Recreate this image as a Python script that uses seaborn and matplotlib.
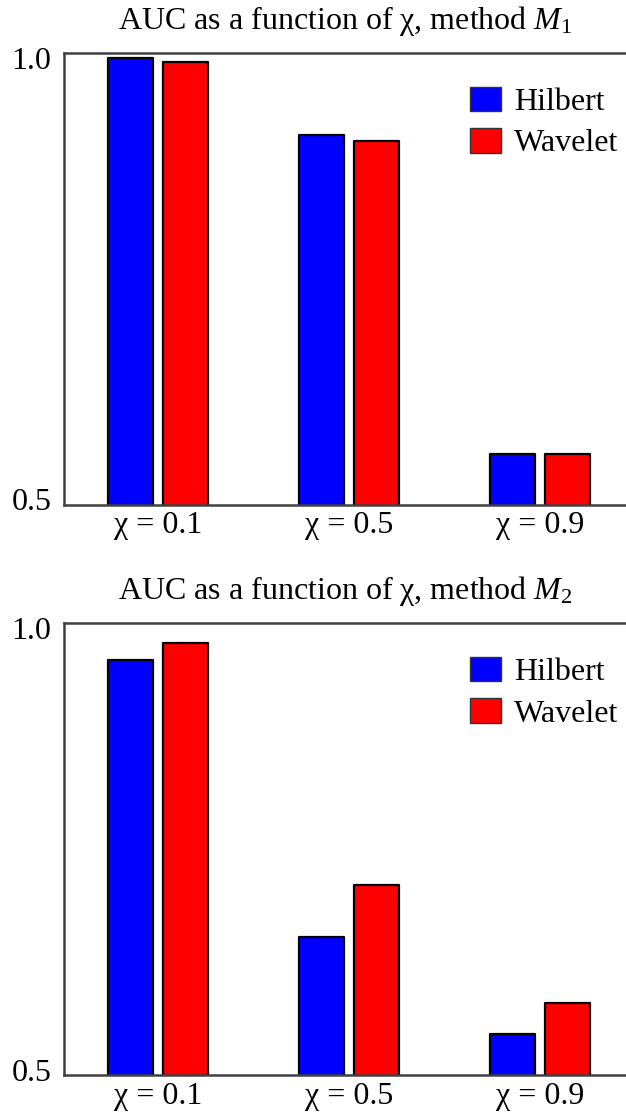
import numpy as np
import pandas as pd
import matplotlib
matplotlib.use("Agg")
import matplotlib.pyplot as plt
from matplotlib.transforms import ScaledTranslation
import seaborn as sns

# Data
categories = ["χ = 0.1", "χ = 0.5", "χ = 0.9"]
methods = ["Hilbert", "Wavelet"]
m1_hilbert = [0.994, 0.909, 0.556]
m1_wavelet = [0.990, 0.902, 0.556]
m2_hilbert = [0.959, 0.653, 0.545]
m2_wavelet = [0.978, 0.710, 0.580]
titles = ["AUC as a function of χ, method $M_1$", "AUC as a function of χ, method $M_2$"]
yticks = [0.5, 1.0]
ytick_labels = ["0.5", "1.0"]

sns.set_theme(style="white")
plt.rcParams["font.family"] = ["Liberation Serif", "DejaVu Serif"]
plt.rcParams["mathtext.fontset"] = "custom"
plt.rcParams["mathtext.rm"] = "Liberation Serif"
plt.rcParams["mathtext.it"] = "Liberation Serif:italic"
plt.rcParams["text.color"] = "black"

def make_df(h, w):
    return pd.DataFrame({
        "cat": categories * 2,
        "method": [methods[0]] * 3 + [methods[1]] * 3,
        "auc": list(h) + list(w),
    })

fig = plt.figure(figsize=(6.26, 11.16), dpi=100)
ax1 = fig.add_axes([64/626, (1116-504.5)/1116, 1 - 64/626, 451.8/1116])
ax2 = fig.add_axes([64/626, (1116-1075)/1116, 1 - 64/626, 452/1116])

palette = {"Hilbert": "#0000ff", "Wavelet": "#ff0000"}
FS = 23
for ax, (h, w), title in zip([ax1, ax2], [(m1_hilbert, m1_wavelet), (m2_hilbert, m2_wavelet)], titles):
    df = make_df(h, w)
    sns.barplot(data=df, x="cat", y="auc", hue="method", palette=palette,
                width=0.573, gap=0.18, ax=ax, edgecolor="black", linewidth=1.6,
                saturation=1.0)
    for p in ax.patches:
        p.set_joinstyle("round")
    ax.set_ylim(0.5, 1.0)
    ax.set_xlim(-0.492, 2.45)
    ax.set_yticks(yticks)
    ax.set_yticklabels(ytick_labels, fontsize=FS)
    ax.tick_params(axis="both", length=0, labelsize=FS, colors="black")
    ax.tick_params(axis="y", pad=9)
    ax.tick_params(axis="x", pad=5)
    for lab, dy in zip(ax.get_yticklabels(), [5, -5]):
        lab.set_transform(lab.get_transform() + ScaledTranslation(0, dy / 100, fig.dpi_scale_trans))
    ax.set_xlabel("")
    ax.set_ylabel("")
    ax.set_title(title, fontsize=FS, pad=17, color="black")
    for s in ["left", "top", "bottom"]:
        ax.spines[s].set_color("#404040")
        ax.spines[s].set_linewidth(1.8)
        ax.spines[s].set_visible(True)
    ax.spines["right"].set_visible(False)
    leg = ax.legend(loc="upper left", bbox_to_anchor=(0.722, 0.925), frameon=False,
                    fontsize=FS, handlelength=0.98, handleheight=0.8,
                    handletextpad=0.4, labelspacing=0.35, borderpad=0, borderaxespad=0)
    for hnd in leg.legend_handles:
        hnd.set_edgecolor("#333333")
        hnd.set_linewidth(1.0)

fig.savefig("out.png", dpi=100)
